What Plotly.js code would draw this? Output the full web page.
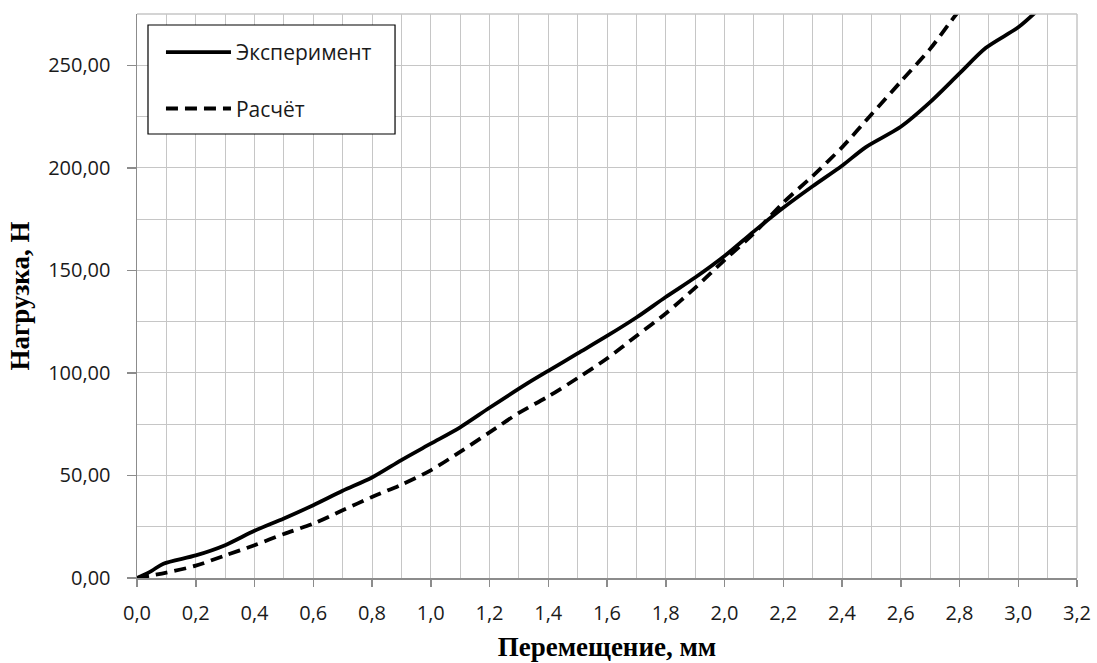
<!DOCTYPE html>
<html>
<head>
<meta charset="utf-8">
<script src="https://cdn.plot.ly/plotly-3.0.1.min.js"></script>
<style>html,body{margin:0;padding:0;background:#fff;}#chart{width:1097px;height:663px;}</style>
</head>
<body>
<div id="chart"></div>
<script>
var expX = [0, 0.05, 0.09, 0.2, 0.3, 0.4, 0.5, 0.6, 0.7, 0.8, 0.9, 1.0, 1.1, 1.2, 1.33, 1.4, 1.5, 1.6, 1.7, 1.8, 1.9, 2.0, 2.1, 2.2, 2.3, 2.4, 2.48, 2.6, 2.7, 2.8, 2.89, 3.0, 3.06];
var expY = [0, 3.5, 7, 11, 16, 23, 29, 35.5, 42.5, 49, 57.5, 65.5, 73.5, 83, 95, 101, 109.5, 118, 127, 137, 146.5, 157, 169, 180.5, 191, 201, 210, 220, 232, 246, 258.5, 268.5, 276];
var calcX = [0, 0.1, 0.2, 0.3, 0.4, 0.5, 0.6, 0.7, 0.8, 0.9, 1.0, 1.1, 1.2, 1.3, 1.4, 1.5, 1.6, 1.7, 1.8, 1.9, 2.0, 2.1, 2.2, 2.3, 2.4, 2.5, 2.6, 2.7, 2.79, 2.81];
var calcY = [0, 2.6, 6, 11, 16, 21.5, 26.5, 33, 39.5, 45.5, 52.5, 61.5, 71, 80.5, 88.5, 97.5, 107, 118, 129, 141.5, 155, 168, 183, 196, 210, 226, 242, 258, 275, 278];
var seriesNames = ['Эксперимент', 'Расчёт'];
var xTitle = 'Перемещение, мм';
var yTitle = 'Нагрузка, Н';

var traces = [
  {x: expX, y: expY, type: 'scatter', mode: 'lines', name: seriesNames[0], legendgroup: 'a',
   line: {color: '#000', width: 3.8, shape: 'spline', smoothing: 0.8}},
  {x: calcX, y: calcY, type: 'scatter', mode: 'lines', name: seriesNames[1], legendgroup: 'b',
   line: {color: '#000', width: 3.8, dash: '12px,7px', shape: 'spline', smoothing: 0.8}}
];

var grid = '#c6c6c6';
var layout = {
  width: 1097, height: 663,
  margin: {l: 137, r: 20, t: 14, b: 85},
  paper_bgcolor: '#fff', plot_bgcolor: '#fff',
  separators: ', ',
  font: {family: 'Open Sans, sans-serif', size: 20, color: '#1a1a1a'},
  showlegend: true,
  legend: {x: 0.0255, y: 0.968, xanchor: 'left', yanchor: 'top',
           borderwidth: 0, bgcolor: 'rgba(0,0,0,0)',
           font: {family: 'Open Sans, sans-serif', size: 21, color: '#1a1a1a'},
           tracegroupgap: 26, itemwidth: 65},
  xaxis: {
    range: [0, 3.2], tick0: 0, dtick: 0.2, tickformat: '.1f',
    showgrid: true, gridcolor: grid, gridwidth: 1, zeroline: false,
    showline: true, linecolor: '#8c8c8c', linewidth: 1.5,
    ticks: 'outside', ticklen: 7, tickcolor: '#8c8c8c', tickwidth: 1.5,
    ticklabelstandoff: 9,
    minor: {dtick: 0.1, tick0: 0, showgrid: true, gridcolor: grid, gridwidth: 1, ticks: ''},
    title: {text: '<b>' + xTitle + '</b>', font: {family: 'Liberation Serif, serif', size: 27, color: '#000'}, standoff: 12}
  },
  yaxis: {
    range: [0, 275], tick0: 0, dtick: 50, tickformat: '.2f',
    showgrid: true, gridcolor: grid, gridwidth: 1, zeroline: false,
    showline: true, linecolor: '#8c8c8c', linewidth: 1.5,
    ticks: 'outside', ticklen: 9, tickcolor: '#8c8c8c', tickwidth: 1.5,
    ticklabelstandoff: 12,
    minor: {dtick: 25, tick0: 0, showgrid: true, gridcolor: grid, gridwidth: 1, ticks: ''},
    title: {text: '<b>' + yTitle + '</b>', font: {family: 'Liberation Serif, serif', size: 27, color: '#000'}, standoff: 10}
  },
  shapes: [
    {type: 'line', xref: 'paper', yref: 'paper', x0: 0, x1: 1, y0: 1, y1: 1, line: {color: grid, width: 1.5}},
    {type: 'line', xref: 'paper', yref: 'paper', x0: 1, x1: 1, y0: 0, y1: 1, line: {color: grid, width: 1.5}},
    {type: 'rect', xref: 'paper', yref: 'paper', layer: 'above', x0: 0.0117, x1: 0.2745, y0: 0.7872, y1: 0.9805,
     fillcolor: '#fff', line: {color: '#000', width: 1.2}}
  ]
};
Plotly.newPlot('chart', traces, layout, {displayModeBar: false, staticPlot: true});
</script>
</body>
</html>
